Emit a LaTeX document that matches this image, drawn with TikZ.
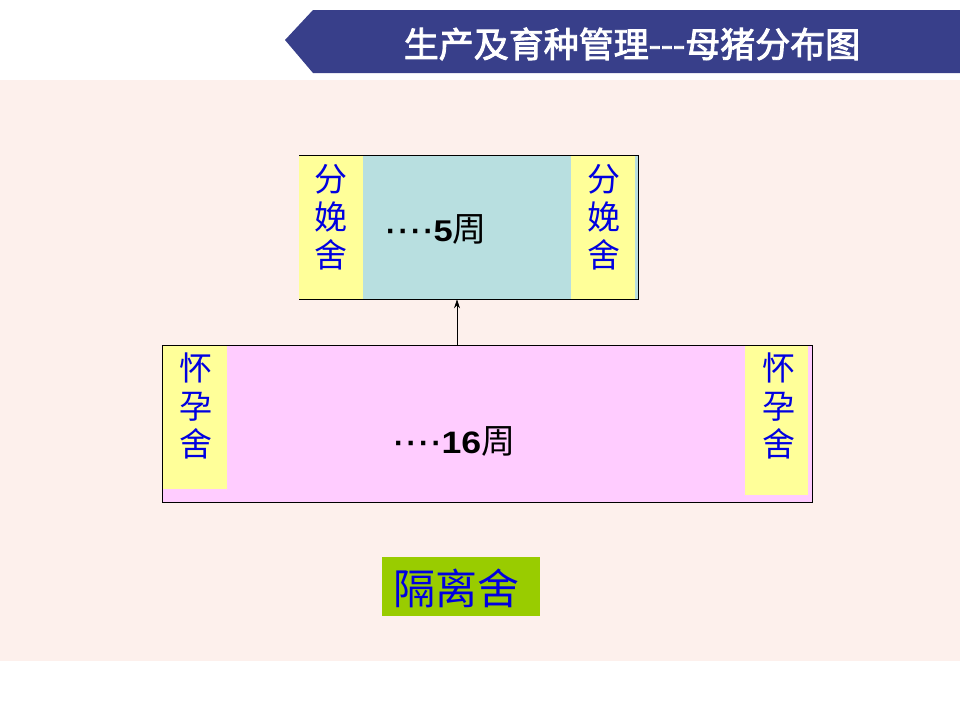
\documentclass[tikz,border=0pt]{standalone}
\usepackage{fontspec}
\setmainfont{Liberation Sans}
\newfontfamily\cjk{Noto Sans CJK SC}[AutoFakeBold=2.5]
\newfontfamily\widesans{Liberation Sans}[FakeStretch=1.15]
\usetikzlibrary{arrows.meta}
\definecolor{bgpink}{HTML}{FDF0EC}
\definecolor{banner}{HTML}{383F8A}
\definecolor{stripyel}{HTML}{FFFF99}
\definecolor{boxblue}{HTML}{B8DFE0}
\definecolor{boxpink}{HTML}{FFCCFF}
\definecolor{isogreen}{HTML}{99CC00}
\definecolor{txtblue}{HTML}{0000E0}
\newcommand{\wkdots}{{\bfseries\fontsize{30}{30}\selectfont ·\kern2.5pt·\kern2.5pt·\kern2.5pt·}}
\tikzset{
  box/.style={draw=black, line width=0.8pt, inner sep=0pt},
  strip/.style={fill=stripyel, draw=none, inner sep=0pt, minimum width=64pt},
  vtext/.style={text=txtblue, font=\cjk\fontsize{33}{38}\selectfont, align=center, inner sep=0pt},
  wktext/.style={text=black, inner sep=0pt},
}
\begin{document}
\begin{tikzpicture}[x=1pt,y=-1pt]
\useasboundingbox (0,0) rectangle (960,720);
\fill[white] (0,0) rectangle (960,720);
\fill[bgpink] (0,80) rectangle (960,661);
% banner
\fill[banner] (313,10) -- (960,10) -- (960,73) -- (313,73) -- (285,40) -- cycle;
\node[text=white, inner sep=0pt, font=\cjk\bfseries\fontsize{35}{38}\selectfont] (title) at (632,44) {生产及育种管理---母猪分布图};
% top box
\node[box, fill=boxblue, minimum width=339pt, minimum height=144pt] (topbox) at (468.5,227) {};
\node[strip, minimum height=143pt, anchor=north west] (tl) at (299,156) {};
\node[strip, minimum height=143pt, anchor=north west] (tr) at (571,156) {};
\node[vtext] (tltext) at (331,217) {分\\娩\\舍};
\node[vtext] (trtext) at (604,217) {分\\娩\\舍};
\node[wktext, anchor=west] (five) at (386,229) {\wkdots\textbf{\widesans\fontsize{30}{30}\selectfont 5}{\cjk\fontsize{34}{30}\selectfont 周}};
% bottom box
\node[box, fill=boxpink, minimum width=650pt, minimum height=157pt] (botbox) at (487,423.5) {};
\node[strip, minimum height=143pt, anchor=north west] (bl) at (163,346) {};
\node[strip, minimum height=149pt, anchor=north west, minimum width=63pt] (br) at (745,346) {};
\node[vtext] (bltext) at (196,406) {怀\\孕\\舍};
\node[vtext] (brtext) at (779,406) {怀\\孕\\舍};
\node[wktext, anchor=west] (sixteen) at (394,441) {\wkdots\textbf{\widesans\fontsize{31}{30}\selectfont 16}{\cjk\fontsize{34}{30}\selectfont 周}};
% arrow
\coordinate (ax) at (457,0);
\draw[-{Stealth[length=9pt,width=6pt]}, line width=0.7pt] (botbox.north -| ax) -- (topbox.south -| ax);
% isolation
\node[fill=isogreen, minimum width=158pt, minimum height=59pt, inner sep=0pt] (iso) at (461,586.5) {};
\node[text=txtblue, font=\cjk\fontsize{42}{44}\selectfont, inner sep=0pt] (isotext) at (456,588) {隔离舍};
\end{tikzpicture}
\end{document}
